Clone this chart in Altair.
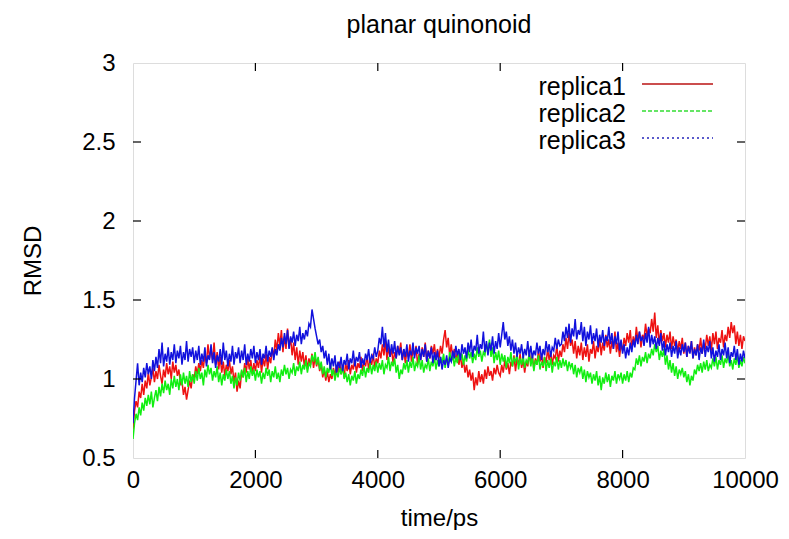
import altair as alt
import pandas as pd

# one RMSD value every 25 ps, from 0 to 10000 ps
step = 25

replica1 = [
    0.68, 0.80, 0.86, 0.82, 0.92, 0.88, 0.97, 0.90, 0.99, 0.94, 1.04, 0.96, 1.01, 1.07, 0.98, 1.05, 1.00, 1.09, 1.02, 0.97,
    1.06, 1.01, 1.10, 1.03, 1.08, 1.00, 1.11, 1.04, 1.09, 1.02, 1.06, 0.97, 0.99, 0.90, 0.95, 0.87, 0.93, 0.99, 0.94, 1.03,
    1.00, 1.08, 1.03, 1.10, 1.05, 1.12, 1.07, 1.16, 1.10, 1.22, 1.13, 1.19, 1.12, 1.23, 1.09, 1.17, 1.06, 1.14, 1.04, 1.11,
    1.02, 1.09, 1.05, 1.12, 1.03, 1.08, 0.98, 1.04, 0.92, 0.99, 0.94, 1.05, 1.01, 1.10, 1.04, 1.13, 1.06, 1.12, 1.03, 1.10,
    1.05, 1.12, 1.07, 1.15, 1.04, 1.13, 1.08, 1.16, 1.06, 1.14, 1.10, 1.19, 1.14, 1.25, 1.18, 1.29, 1.21, 1.31, 1.17, 1.27,
    1.19, 1.32, 1.20, 1.26, 1.15, 1.23, 1.12, 1.20, 1.09, 1.18, 1.11, 1.17, 1.08, 1.15, 1.06, 1.13, 1.09, 1.16, 1.07, 1.14,
    1.08, 1.13, 1.05, 1.10, 1.01, 1.06, 0.99, 1.05, 0.98, 1.03, 1.00, 1.07, 1.02, 1.09, 1.04, 1.11, 1.03, 1.08, 1.01, 1.10,
    1.05, 1.12, 1.03, 1.09, 1.06, 1.13, 1.04, 1.10, 1.07, 1.14, 1.05, 1.11, 1.08, 1.15, 1.06, 1.12, 1.09, 1.16, 1.07, 1.13,
    1.10, 1.18, 1.13, 1.22, 1.15, 1.24, 1.12, 1.20, 1.14, 1.19, 1.10, 1.17, 1.13, 1.21, 1.16, 1.23, 1.12, 1.19, 1.10, 1.18,
    1.14, 1.22, 1.11, 1.19, 1.15, 1.21, 1.09, 1.16, 1.12, 1.20, 1.14, 1.23, 1.11, 1.18, 1.13, 1.21, 1.16, 1.22, 1.12, 1.19,
    1.13, 1.21, 1.16, 1.25, 1.31, 1.20, 1.26, 1.15, 1.22, 1.13, 1.19, 1.11, 1.17, 1.09, 1.15, 1.07, 1.12, 1.04, 1.09, 1.01,
    1.06, 0.99, 1.04, 0.93, 1.01, 0.96, 1.05, 0.98, 1.03, 0.97, 1.06, 1.00, 1.08, 1.02, 1.05, 0.99, 1.07, 1.03, 1.09, 1.04,
    1.02, 1.09, 1.04, 1.12, 1.06, 1.10, 1.03, 1.11, 1.08, 1.15, 1.05, 1.13, 1.09, 1.16, 1.07, 1.12, 1.04, 1.11, 1.08, 1.17,
    1.10, 1.15, 1.06, 1.13, 1.09, 1.18, 1.11, 1.16, 1.07, 1.14, 1.10, 1.19, 1.12, 1.17, 1.09, 1.15, 1.13, 1.21, 1.11, 1.18,
    1.14, 1.22, 1.17, 1.26, 1.19, 1.29, 1.21, 1.25, 1.16, 1.24, 1.13, 1.21, 1.15, 1.23, 1.12, 1.20, 1.14, 1.22, 1.11, 1.19,
    1.16, 1.24, 1.13, 1.21, 1.17, 1.26, 1.15, 1.23, 1.18, 1.28, 1.20, 1.25, 1.16, 1.24, 1.19, 1.30, 1.17, 1.23, 1.14, 1.22,
    1.18, 1.26, 1.21, 1.29, 1.23, 1.31, 1.19, 1.27, 1.22, 1.33, 1.24, 1.30, 1.20, 1.28, 1.25, 1.35, 1.27, 1.32, 1.29, 1.38,
    1.30, 1.42, 1.26, 1.34, 1.22, 1.31, 1.24, 1.29, 1.20, 1.28, 1.23, 1.30, 1.19, 1.27, 1.21, 1.25, 1.17, 1.24, 1.19, 1.26,
    1.16, 1.23, 1.14, 1.21, 1.17, 1.24, 1.13, 1.20, 1.15, 1.22, 1.18, 1.26, 1.16, 1.23, 1.19, 1.28, 1.21, 1.27, 1.18, 1.29,
    1.22, 1.30, 1.19, 1.26, 1.23, 1.31, 1.20, 1.28, 1.24, 1.33, 1.26, 1.36, 1.29, 1.34, 1.22, 1.30, 1.21, 1.28, 1.19, 1.27,
    1.24,
]

replica2 = [
    0.62, 0.72, 0.78, 0.74, 0.82, 0.77, 0.85, 0.80, 0.88, 0.83, 0.90, 0.84, 0.92, 0.82, 0.88, 0.93, 0.86, 0.95, 0.89, 0.97,
    0.91, 0.99, 0.93, 0.97, 0.90, 1.00, 0.94, 1.02, 0.95, 1.00, 0.93, 1.03, 0.96, 1.04, 0.97, 1.02, 0.95, 1.05, 0.98, 1.03,
    0.97, 1.05, 0.99, 1.07, 1.00, 1.04, 0.96, 1.06, 1.01, 1.09, 1.03, 1.07, 0.99, 1.05, 1.01, 1.08, 0.98, 1.04, 0.96, 1.03,
    0.99, 1.06, 1.00, 1.05, 0.97, 1.02, 0.94, 1.01, 0.96, 1.04, 0.99, 1.06, 1.01, 1.07, 0.98, 1.05, 1.00, 1.08, 1.02, 1.06,
    0.99, 1.06, 1.01, 1.05, 0.97, 1.04, 1.00, 1.07, 1.02, 1.06, 0.98, 1.05, 1.01, 1.08, 1.00, 1.04, 0.98, 1.06, 1.02, 1.09,
    1.03, 1.07, 1.00, 1.06, 1.04, 1.10, 1.02, 1.08, 1.05, 1.11, 1.03, 1.09, 1.06, 1.12, 1.04, 1.10, 1.08, 1.15, 1.11, 1.17,
    1.09, 1.14, 1.06, 1.11, 1.03, 1.08, 1.01, 1.07, 1.04, 1.10, 1.02, 1.06, 0.99, 1.05, 1.01, 1.07, 1.03, 1.08, 1.00, 1.04,
    0.98, 1.03, 0.96, 1.02, 0.99, 1.05, 0.97, 1.03, 1.00, 1.06, 1.02, 1.08, 1.01, 1.07, 1.04, 1.10, 1.03, 1.09, 1.05, 1.11,
    1.04, 1.10, 1.06, 1.12, 1.03, 1.09, 1.07, 1.14, 1.05, 1.11, 1.08, 1.13, 1.04, 1.09, 1.00, 1.06, 1.03, 1.10, 1.06, 1.12,
    1.04, 1.11, 1.07, 1.14, 1.05, 1.10, 1.08, 1.15, 1.06, 1.12, 1.04, 1.09, 1.07, 1.13, 1.05, 1.11, 1.08, 1.14, 1.06, 1.12,
    1.08, 1.14, 1.10, 1.16, 1.07, 1.13, 1.09, 1.17, 1.11, 1.15, 1.08, 1.14, 1.10, 1.18, 1.12, 1.16, 1.09, 1.15, 1.11, 1.19,
    1.13, 1.17, 1.10, 1.16, 1.12, 1.20, 1.14, 1.18, 1.11, 1.17, 1.15, 1.22, 1.17, 1.25, 1.14, 1.20, 1.10, 1.17, 1.12, 1.18,
    1.09, 1.16, 1.11, 1.15, 1.07, 1.14, 1.10, 1.17, 1.08, 1.13, 1.11, 1.16, 1.06, 1.13, 1.09, 1.15, 1.07, 1.12, 1.10, 1.16,
    1.08, 1.14, 1.05, 1.12, 1.09, 1.15, 1.06, 1.11, 1.08, 1.14, 1.05, 1.12, 1.07, 1.13, 1.04, 1.11, 1.08, 1.14, 1.06, 1.12,
    1.07, 1.13, 1.08, 1.12, 1.05, 1.11, 1.07, 1.10, 1.03, 1.09, 1.01, 1.07, 1.04, 1.08, 1.00, 1.06, 0.98, 1.05, 1.01, 1.04,
    0.97, 1.03, 0.99, 1.05, 0.96, 1.02, 0.93, 1.01, 0.97, 1.04, 0.98, 1.03, 0.95, 1.02, 0.99, 1.05, 0.97, 1.03, 1.00, 1.04,
    0.97, 1.03, 0.99, 1.05, 0.98, 1.04, 1.01, 1.07, 1.06, 1.13, 1.09, 1.15, 1.08, 1.14, 1.11, 1.17, 1.10, 1.16, 1.13, 1.19,
    1.15, 1.22, 1.17, 1.21, 1.12, 1.18, 1.14, 1.19, 1.09, 1.15, 1.06, 1.12, 1.04, 1.10, 1.02, 1.08, 1.00, 1.06, 1.03, 1.07,
    1.01, 1.05, 0.98, 1.03, 0.96, 1.02, 0.99, 1.06, 1.03, 1.09, 1.05, 1.10, 1.04, 1.11, 1.06, 1.12, 1.05, 1.09, 1.07, 1.13,
    1.08, 1.14, 1.06, 1.12, 1.09, 1.15, 1.07, 1.13, 1.10, 1.16, 1.08, 1.12, 1.06, 1.13, 1.09, 1.15, 1.07, 1.12, 1.08, 1.14,
    1.10,
]

replica3 = [
    0.72, 0.88, 0.99, 1.10, 0.96, 1.04, 0.98, 1.07, 1.01, 1.10, 1.03, 1.08, 1.00, 1.12, 1.05, 1.14, 1.07, 1.19, 1.10, 1.23,
    1.08, 1.16, 1.11, 1.20, 1.09, 1.17, 1.12, 1.22, 1.10, 1.18, 1.13, 1.21, 1.09, 1.17, 1.12, 1.24, 1.11, 1.19, 1.14, 1.20,
    1.10, 1.18, 1.12, 1.21, 1.09, 1.16, 1.11, 1.20, 1.08, 1.15, 1.12, 1.22, 1.10, 1.17, 1.07, 1.15, 1.11, 1.19, 1.09, 1.23,
    1.12, 1.18, 1.08, 1.16, 1.11, 1.21, 1.09, 1.17, 1.13, 1.20, 1.10, 1.18, 1.12, 1.22, 1.09, 1.16, 1.11, 1.19, 1.13, 1.21,
    1.10, 1.17, 1.12, 1.19, 1.09, 1.16, 1.13, 1.21, 1.11, 1.18, 1.14, 1.20, 1.12, 1.19, 1.15, 1.22, 1.18, 1.26, 1.20, 1.29,
    1.22, 1.31, 1.19, 1.27, 1.23, 1.30, 1.21, 1.28, 1.24, 1.33, 1.22, 1.29, 1.25, 1.31, 1.27, 1.35, 1.33, 1.44, 1.38, 1.32,
    1.27, 1.22, 1.25, 1.17, 1.21, 1.13, 1.18, 1.09, 1.16, 1.06, 1.13, 1.08, 1.15, 1.04, 1.11, 1.07, 1.14, 1.05, 1.12, 1.09,
    1.16, 1.06, 1.13, 1.10, 1.18, 1.08, 1.14, 1.11, 1.17, 1.07, 1.13, 1.09, 1.16, 1.12, 1.19, 1.10, 1.15, 1.13, 1.20, 1.14,
    1.18, 1.26, 1.22, 1.33, 1.20, 1.29, 1.17, 1.25, 1.14, 1.22, 1.16, 1.24, 1.13, 1.21, 1.15, 1.20, 1.12, 1.19, 1.14, 1.22,
    1.11, 1.18, 1.15, 1.23, 1.13, 1.20, 1.16, 1.21, 1.12, 1.19, 1.14, 1.22, 1.11, 1.18, 1.13, 1.20, 1.10, 1.17, 1.12, 1.18,
    1.08, 1.14, 1.06, 1.12, 1.09, 1.15, 1.07, 1.13, 1.11, 1.18, 1.13, 1.21, 1.15, 1.19, 1.12, 1.22, 1.16, 1.20, 1.13, 1.23,
    1.17, 1.25, 1.14, 1.21, 1.18, 1.28, 1.16, 1.22, 1.19, 1.30, 1.17, 1.24, 1.15, 1.23, 1.18, 1.27, 1.16, 1.24, 1.19, 1.29,
    1.20, 1.28, 1.36, 1.25, 1.30, 1.21, 1.27, 1.18, 1.25, 1.16, 1.23, 1.14, 1.20, 1.16, 1.22, 1.13, 1.19, 1.15, 1.24, 1.14,
    1.21, 1.13, 1.18, 1.15, 1.23, 1.16, 1.21, 1.12, 1.19, 1.15, 1.24, 1.17, 1.22, 1.14, 1.20, 1.18, 1.26, 1.19, 1.25, 1.21,
    1.22, 1.30, 1.24, 1.33, 1.26, 1.35, 1.23, 1.32, 1.27, 1.38, 1.25, 1.31, 1.28, 1.36, 1.24, 1.33, 1.21, 1.30, 1.25, 1.34,
    1.22, 1.29, 1.24, 1.32, 1.20, 1.28, 1.23, 1.31, 1.21, 1.27, 1.24, 1.33, 1.22, 1.29, 1.19, 1.27, 1.22, 1.30, 1.18, 1.25,
    1.16, 1.22, 1.13, 1.20, 1.15, 1.23, 1.17, 1.25, 1.20, 1.28, 1.22, 1.30, 1.24, 1.27, 1.21, 1.29, 1.23, 1.33, 1.20, 1.28,
    1.22, 1.27, 1.19, 1.26, 1.21, 1.29, 1.18, 1.24, 1.15, 1.22, 1.17, 1.23, 1.14, 1.21, 1.16, 1.24, 1.13, 1.20, 1.15, 1.22,
    1.17, 1.23, 1.14, 1.21, 1.16, 1.24, 1.13, 1.19, 1.15, 1.22, 1.12, 1.20, 1.16, 1.25, 1.14, 1.21, 1.17, 1.24, 1.13, 1.20,
    1.11, 1.18, 1.14, 1.22, 1.12, 1.19, 1.15, 1.23, 1.13, 1.20, 1.10, 1.17, 1.14, 1.21, 1.12, 1.19, 1.09, 1.16, 1.11, 1.18,
    1.13,
]

series_names = ["replica1", "replica2", "replica3"]
series_colors = ["#ee1111", "#11ee11", "#1111dd"]
legend_colors = ["#bb1515", "#33dd33", "#2525bb"]
legend_dash = [[1, 0], [4, 2], [2, 3]]

x_ticks = [0, 2000, 4000, 6000, 8000, 10000]
y_ticks = [0.5, 1, 1.5, 2, 2.5, 3]
x_inner = [2000, 4000, 6000, 8000]
y_inner = [1, 1.5, 2, 2.5]

W, H = 612, 395
FONT = "Liberation Sans"

rows = []
for name, vals in zip(series_names, [replica1, replica2, replica3]):
    for i, v in enumerate(vals):
        rows.append({"t": i * step, "rmsd": v, "series": name})
df = pd.DataFrame(rows)

xscale = alt.Scale(domain=[0, 10000], nice=False, zero=False)
yscale = alt.Scale(domain=[0.5, 3], nice=False, zero=False)

lines = alt.Chart(df).mark_line(strokeWidth=1.5, clip=True).encode(
    x=alt.X("t:Q", scale=xscale, title="time/ps",
            axis=alt.Axis(values=x_ticks, ticks=False, domain=False, grid=False, format="d",
                          labelFontSize=24, labelPadding=10, titleFontSize=24,
                          titlePadding=14, titleFontWeight="normal", labelFont=FONT,
                          titleFont=FONT, labelColor="black", titleColor="black",
                          labelFlush=False)),
    y=alt.Y("rmsd:Q", scale=yscale, title="RMSD",
            axis=alt.Axis(values=y_ticks, ticks=False, domain=False, grid=False,
                          labelFontSize=24, labelPadding=18, titleFontSize=24,
                          titlePadding=36, titleFontWeight="normal", labelFont=FONT,
                          titleFont=FONT, labelColor="black", titleColor="black",
                          labelFlush=False,
                          labelExpr="datum.value == 1 || datum.value == 2 || datum.value == 3 ? format(datum.value, 'd') : format(datum.value, '.1f')")),
    color=alt.Color("series:N", scale=alt.Scale(domain=series_names, range=series_colors), legend=None),
)

xt = pd.DataFrame({"x": x_inner})
yt = pd.DataFrame({"y": y_inner})
tick_b = alt.Chart(xt).mark_rule(color="black", strokeWidth=1.2).encode(
    x=alt.X("x:Q", scale=xscale), y=alt.value(H), y2=alt.value(H - 8))
tick_t = alt.Chart(xt).mark_rule(color="black", strokeWidth=1.2).encode(
    x=alt.X("x:Q", scale=xscale), y=alt.value(0), y2=alt.value(8))
tick_l = alt.Chart(yt).mark_rule(color="black", strokeWidth=1.2).encode(
    y=alt.Y("y:Q", scale=yscale), x=alt.value(0), x2=alt.value(8))
tick_r = alt.Chart(yt).mark_rule(color="black", strokeWidth=1.2).encode(
    y=alt.Y("y:Q", scale=yscale), x=alt.value(W - 8), x2=alt.value(W))

legend_layers = []
for k, name in enumerate(series_names):
    yy = 21 + 27 * k
    legend_layers.append(
        alt.Chart(pd.DataFrame({"label": [name]})).mark_text(
            align="right", baseline="middle", fontSize=25, font=FONT, color="black"
        ).encode(text="label:N", x=alt.value(493), y=alt.value(yy + 3))
    )
    legend_layers.append(
        alt.Chart(pd.DataFrame({"label": [name]})).mark_rule(
            color=legend_colors[k], strokeWidth=1.6, strokeDash=legend_dash[k]
        ).encode(x=alt.value(509), x2=alt.value(580), y=alt.value(yy))
    )

chart = alt.layer(lines, tick_b, tick_t, tick_l, tick_r, *legend_layers).properties(
    width=W, height=H,
    title=alt.TitleParams("planar quinonoid", fontSize=25, font=FONT, fontWeight="normal",
                          color="black", anchor="middle", offset=13),
    autosize=alt.AutoSizeParams(type="none"),
    padding={"left": 125, "top": 55, "right": 36, "bottom": 72},
).configure_view(stroke="black", strokeWidth=1.5).configure(background="white")

chart.save("out.html", embed_options={"renderer": "svg", "actions": False})
